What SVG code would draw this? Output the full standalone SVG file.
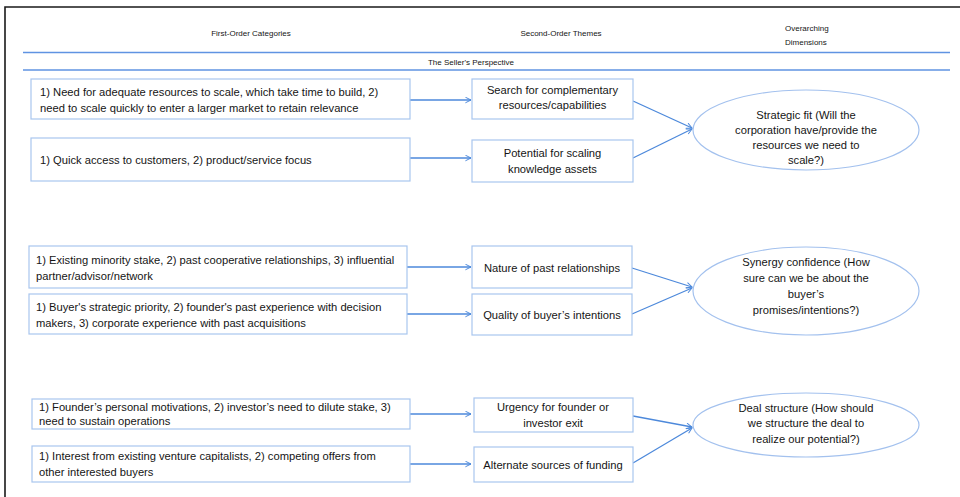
<svg xmlns="http://www.w3.org/2000/svg" width="960" height="497" viewBox="0 0 960 497">
<style>
text{font-family:"Liberation Sans",Arial,sans-serif;fill:#151515}
.hd{font-size:8px}
.t{font-size:11.2px}
.c{text-anchor:middle}
.box{fill:#fff;stroke:#a9c6ee;stroke-width:1.2}
.ell{fill:#fff;stroke:#a3c1ee;stroke-width:1.2}
.rule{stroke:#5f93e2;stroke-width:1.6}
.con{stroke:#4d89db;stroke-width:1.3;fill:none}
</style>
<defs>
<marker id="ah" viewBox="0 0 10 10" refX="9" refY="5" markerWidth="7" markerHeight="7" markerUnits="userSpaceOnUse" orient="auto">
<path d="M1,1 L9,5 L1,9" fill="none" stroke="#4d89db" stroke-width="1.4"/>
</marker>
</defs>
<rect width="960" height="497" fill="#fff"/>
<path d="M5,497 V7 H960" fill="none" stroke="#1a1a1a" stroke-width="1.6"/>
<g id="header">
<text class="hd c" x="251" y="36">First-Order Categories</text>
<text class="hd c" x="561" y="36">Second-Order Themes</text>
<text class="hd" x="785" y="31">Overarching</text>
<text class="hd" x="785" y="45">Dimensions</text>
<line class="rule" x1="23" y1="52.5" x2="950" y2="52.5"/>
<text class="hd c" x="471" y="65">The Seller's Perspective</text>
<line class="rule" x1="23" y1="70" x2="950" y2="70"/>
</g>
<g id="connectors">
<line class="con" x1="410" y1="100" x2="471" y2="100" marker-end="url(#ah)"/>
<line class="con" x1="410" y1="158" x2="471" y2="158" marker-end="url(#ah)"/>
<line class="con" x1="633" y1="101" x2="692" y2="128" marker-end="url(#ah)"/>
<line class="con" x1="633" y1="158" x2="692" y2="129" marker-end="url(#ah)"/>
<line class="con" x1="407" y1="267" x2="471" y2="267" marker-end="url(#ah)"/>
<line class="con" x1="407" y1="314" x2="471" y2="314" marker-end="url(#ah)"/>
<line class="con" x1="632" y1="268" x2="692" y2="287" marker-end="url(#ah)"/>
<line class="con" x1="632" y1="314" x2="692" y2="288" marker-end="url(#ah)"/>
<line class="con" x1="410" y1="414" x2="471" y2="414" marker-end="url(#ah)"/>
<line class="con" x1="410" y1="464" x2="471" y2="464" marker-end="url(#ah)"/>
<line class="con" x1="633" y1="416" x2="692" y2="427" marker-end="url(#ah)"/>
<line class="con" x1="633" y1="463" x2="692" y2="428" marker-end="url(#ah)"/>
</g>
<g id="f1">
<rect class="box" x="31" y="79" width="379" height="40"/>
<text class="t" x="40" y="96">1) Need for adequate resources to scale, which take time to build, 2)</text>
<text class="t" x="40" y="112">need to scale quickly to enter a larger market to retain relevance</text>
</g>
<g id="f2">
<rect class="box" x="31" y="138" width="379" height="43"/>
<text class="t" x="40" y="164">1) Quick access to customers, 2) product/service focus</text>
</g>
<g id="s1">
<rect class="box" x="472" y="79" width="161" height="40"/>
<text class="t c" x="552.5" y="94">Search for complementary</text>
<text class="t c" x="552.5" y="109">resources/capabilities</text>
</g>
<g id="s2">
<rect class="box" x="472" y="140" width="161" height="42"/>
<text class="t c" x="552.5" y="157">Potential for scaling</text>
<text class="t c" x="552.5" y="173">knowledge assets</text>
</g>
<g id="d1">
<ellipse class="ell" cx="806" cy="130" rx="113" ry="40"/>
<text class="t c" x="806" y="119">Strategic fit (Will the</text>
<text class="t c" x="806" y="134">corporation have/provide the</text>
<text class="t c" x="806" y="149">resources we need to</text>
<text class="t c" x="806" y="164">scale?)</text>
</g>
<g id="f3">
<rect class="box" x="29" y="246" width="378" height="42"/>
<text class="t" x="36" y="264">1) Existing minority stake, 2) past cooperative relationships, 3) influential</text>
<text class="t" x="36" y="280">partner/advisor/network</text>
</g>
<g id="f4">
<rect class="box" x="29" y="294" width="378" height="40"/>
<text class="t" x="36" y="311">1) Buyer's strategic priority, 2) founder's past experience with decision</text>
<text class="t" x="36" y="327">makers, 3) corporate experience with past acquisitions</text>
</g>
<g id="s3">
<rect class="box" x="472" y="246" width="160" height="42"/>
<text class="t c" x="552" y="272">Nature of past relationships</text>
</g>
<g id="s4">
<rect class="box" x="472" y="294" width="160" height="41"/>
<text class="t c" x="552" y="319">Quality of buyer’s intentions</text>
</g>
<g id="d2">
<ellipse class="ell" cx="806" cy="291" rx="113" ry="44"/>
<text class="t c" x="806" y="266">Synergy confidence (How</text>
<text class="t c" x="806" y="282">sure can we be about the</text>
<text class="t c" x="806" y="298">buyer’s</text>
<text class="t c" x="806" y="314">promises/intentions?)</text>
</g>
<g id="f5">
<rect class="box" x="32" y="399" width="378" height="30"/>
<text class="t" x="39" y="411">1) Founder’s personal motivations, 2) investor’s need to dilute stake, 3)</text>
<text class="t" x="39" y="425">need to sustain operations</text>
</g>
<g id="f6">
<rect class="box" x="32" y="446" width="378" height="36"/>
<text class="t" x="39" y="460">1) Interest from existing venture capitalists, 2) competing offers from</text>
<text class="t" x="39" y="476">other interested buyers</text>
</g>
<g id="s5">
<rect class="box" x="474" y="398" width="159" height="34"/>
<text class="t c" x="553" y="411">Urgency for founder or</text>
<text class="t c" x="553" y="427">investor exit</text>
</g>
<g id="s6">
<rect class="box" x="474" y="447" width="159" height="35"/>
<text class="t c" x="553" y="469">Alternate sources of funding</text>
</g>
<g id="d3">
<ellipse class="ell" cx="806" cy="425" rx="113" ry="32"/>
<text class="t c" x="806" y="412">Deal structure (How should</text>
<text class="t c" x="806" y="427">we structure the deal to</text>
<text class="t c" x="806" y="443">realize our potential?)</text>
</g>
</svg>
